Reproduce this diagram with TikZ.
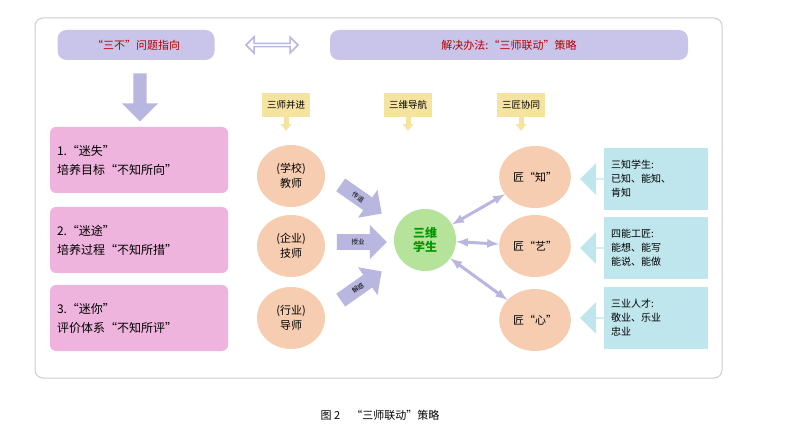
\documentclass[tikz,border=0pt]{standalone}
\usepackage{fontspec}
\setmainfont{Noto Sans CJK SC}
\usetikzlibrary{shapes.arrows,shapes.geometric,arrows.meta}
\definecolor{lav}{HTML}{C9C5EA}
\definecolor{pinkb}{HTML}{EFB4DE}
\definecolor{peach}{HTML}{F6CDB0}
\definecolor{yel}{HTML}{F5E3A0}
\definecolor{cyanb}{HTML}{BFE6EC}
\definecolor{grn}{HTML}{B5E39A}
\definecolor{arr}{HTML}{B9B6E0}
\tikzset{
 pill/.style={rounded corners=9pt,fill=lav,text=red!70!black,font=\fontsize{11}{13}\selectfont},
 pbox/.style={rounded corners=6pt,fill=pinkb,minimum width=178pt,minimum height=66pt,align=left,text width=164pt,font=\fontsize{12}{19}\selectfont},
 ell/.style={ellipse,fill=peach,minimum width=68pt,minimum height=62pt,align=center,font=\fontsize{11}{15}\selectfont},
 ylab/.style={fill=yel,minimum width=48pt,minimum height=24pt,font=\fontsize{9.5}{11}\selectfont},
 cbox/.style={fill=cyanb,minimum width=104pt,minimum height=62pt,align=left,text width=90pt,font=\fontsize{10}{14}\selectfont},
 fat/.style={single arrow,fill=arr,minimum height=50pt,minimum width=34pt,single arrow head extend=5pt,inner sep=1pt,font=\fontsize{6.5}{7}\selectfont},
 thin/.style={<->,line width=3pt,draw=arr,>=latex},
 ydown/.style={-{Latex[length=7pt,width=12pt]},line width=5pt,draw=yel},
 cleft/.style={single arrow,shape border rotate=180,fill=cyanb,minimum height=26pt,minimum width=32pt,single arrow head extend=5pt,inner sep=0pt}
}
\begin{document}
\begin{tikzpicture}[x=1pt,y=-1pt]
\useasboundingbox[fill=white] (0,0) rectangle (794,443);
\draw[rounded corners=8pt,draw=black!20,line width=1pt] (35,18) rectangle (722,378);
\node[pill,minimum width=157pt,minimum height=30pt] (p1) at (136,45) {“三不”问题指向};
\node[pill,minimum width=358pt,minimum height=30pt] (p2) at (509,45) {解决办法:“三师联动”策略};
\node[single arrow,double arrow,draw=arr,fill=white,line width=1.5pt,minimum height=52pt,minimum width=16pt,inner sep=0pt,single arrow head extend=3pt,double arrow head extend=3pt] (da) at (272,45) {};
\node[single arrow,shape border rotate=270,fill=arr,minimum height=48pt,minimum width=36pt,single arrow head extend=6pt] (dn) at (140,94) {};
\node[pbox] (b1) at (139,160) {1.“迷失”\\培养目标“不知所向”};
\node[pbox] (b2) at (139,240) {2.“迷途”\\培养过程“不知所措”};
\node[pbox] (b3) at (139,318) {3.“迷你”\\评价体系“不知所评”};
\node[ylab] (y1) at (286,105) {三师并进};
\node[ylab] (y2) at (408,105) {三维导航};
\node[ylab] (y3) at (521,105) {三匠协同};
\foreach \n in {y1,y2,y3}{\draw[ydown] (\n.south) -- ++(0,14);}
\node[ell] (e1) at (291,176) {(学校)\\教师};
\node[ell] (e2) at (291,246) {(企业)\\技师};
\node[ell] (e3) at (291,318) {(行业)\\导师};
\node[circle,fill=grn,minimum size=62pt,text=green!60!black,font=\bfseries\fontsize{12}{14}\selectfont,align=center] (c) at (425,240) {三维\\学生};
\node[fat,rotate=-35] (f1) at (358,197) {传道};
\node[fat] (f2) at (358,242) {授业};
\node[fat,rotate=35] (f3) at (358,288) {解惑};
\node[ell] (r1) at (535,177) {匠“知”};
\node[ell] (r2) at (535,246) {匠“艺”};
\node[ell] (r3) at (535,320) {匠“心”};
\draw[thin] (c) -- (r1);
\draw[thin] (c) -- (r2);
\draw[thin] (c) -- (r3);
\node[cbox] (k1) at (656,179) {三知学生:\\已知、能知、\\肯知};
\node[cbox] (k2) at (656,248) {四能工匠:\\能想、能写\\能说、能做};
\node[cbox] (k3) at (656,318) {三业人才:\\敬业、乐业\\忠业};
\foreach \k in {k1,k2,k3}{\node[cleft,anchor=tip] at ([xshift=-24pt]\k.west) {};}
\node[font=\fontsize{11}{13}\selectfont] (cap) at (380,415) {图 2\quad “三师联动”策略};
\end{tikzpicture}
\end{document}
